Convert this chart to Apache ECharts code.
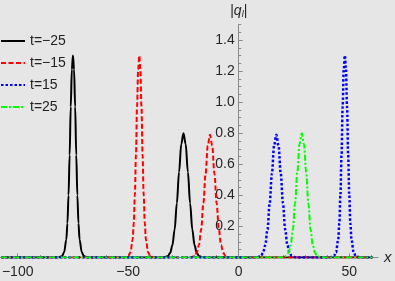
<!DOCTYPE html>
<html>
<head>
<meta charset="utf-8">
<script src="https://cdn.jsdelivr.net/npm/echarts@6/dist/echarts.min.js"></script>
<style>
html,body{margin:0;padding:0;background:#e6e6e6;}
#c{width:395px;height:281px;}
</style>
</head>
<body>
<div id="c"></div>
<script>
var seriesNames = ['t=\u221225', 't=\u221215', 't=15', 't=25'];
var xTickLabels = [-100, -50, 0, 50];
var xMinorTicks = [-100, -90, -80, -70, -60, -50, -40, -30, -20, -10, 0, 10, 20, 30, 40, 50, 60];
var yTickLabels = [0.2, 0.4, 0.6, 0.8, 1.0, 1.2, 1.4];
var yMinorTicks = [0.05, 0.1, 0.15, 0.25, 0.3, 0.35, 0.45, 0.5, 0.55, 0.65, 0.7, 0.75, 0.85, 0.9, 0.95, 1.05, 1.1, 1.15, 1.25, 1.3, 1.35, 1.45, 1.5];

var tm25 = [[-107.5,0],[-82,0],[-80,0.008],[-79,0.033],[-78,0.115],[-77.5,0.22],[-77,0.40],[-76.5,0.66],[-76,0.97],[-75.5,1.21],[-75,1.30],[-74.5,1.21],[-74,0.97],[-73.5,0.66],[-73,0.40],[-72.5,0.22],[-72,0.115],[-71,0.033],[-70,0.008],[-68,0],
  [-34,0],[-32,0.009],[-31,0.03],[-30,0.08],[-29,0.18],[-28,0.35],[-27,0.55],[-26,0.73],[-25,0.80],[-24,0.73],[-23,0.55],[-22,0.35],[-21,0.18],[-20,0.08],[-19,0.03],[-18,0.009],[-16,0],[60.5,0]];

var tm15 = [[-107.5,0],[-52,0],[-50,0.008],[-49,0.033],[-48,0.115],[-47.5,0.22],[-47,0.40],[-46.5,0.66],[-46,0.97],[-45.5,1.21],[-45,1.30],[-44.5,1.21],[-44,0.97],[-43.5,0.66],[-43,0.40],[-42.5,0.22],[-42,0.115],[-41,0.033],[-40,0.008],[-38,0],
  [-22,0],[-20,0.009],[-19,0.03],[-18,0.08],[-17,0.18],[-16,0.35],[-15,0.54],[-14,0.72],[-13,0.79],[-12,0.72],[-11,0.54],[-10,0.35],[-9,0.18],[-8,0.08],[-7,0.03],[-6,0.009],[-4,0],[60.5,0]];

var tp15 = [[-107.5,0],[8,0],[10,0.009],[11,0.03],[12,0.08],[13,0.18],[14,0.35],[15,0.54],[16,0.72],[17,0.79],[18,0.72],[19,0.54],[20,0.35],[21,0.18],[22,0.08],[23,0.03],[24,0.009],[26,0],
  [41,0],[43,0.008],[44,0.033],[45,0.115],[45.5,0.22],[46,0.40],[46.5,0.66],[47,0.97],[47.5,1.21],[48,1.30],[48.5,1.21],[49,0.97],[49.5,0.66],[50,0.40],[50.5,0.22],[51,0.115],[52,0.033],[53,0.008],[55,0],[60.5,0]];

var tp25 = [[-107.5,0],[19.5,0],[21.5,0.009],[22.5,0.03],[23.5,0.08],[24.5,0.18],[25.5,0.35],[26.5,0.55],[27.5,0.73],[28.5,0.80],[29.5,0.73],[30.5,0.55],[31.5,0.35],[32.5,0.18],[33.5,0.08],[34.5,0.03],[35.5,0.009],[37.5,0],[60.5,0]];

var xMin = -108, xMax = 63, gridW = 378;
var yOffset = -(0 - xMin) / (xMax - xMin) * gridW;
var chart = echarts.init(document.getElementById('c'), null, {renderer: 'canvas'});
var axisColor = '#8a8a8a';
var textColor = '#262626';
var ff = 'Liberation Sans, Arial, sans-serif';
function mk(name, data, color, type, width) {
  return {
    name: name, type: 'line', data: data, showSymbol: false, symbol: 'none',
    smooth: 0.35, smoothMonotone: 'x', xAxisIndex: 0, yAxisIndex: 0,
    lineStyle: {color: color, type: type, width: width},
    itemStyle: {color: color},
    animation: false
  };
}
var option = {
  backgroundColor: '#e6e6e6',
  animation: false,
  grid: {left: 0, width: gridW, top: 24.5, bottom: 23.5, containLabel: false, outerBoundsMode: 'none'},
  legend: {
    orient: 'vertical', left: 0, top: 34, padding: 0,
    itemWidth: 24, itemHeight: 14, itemGap: 8,
    itemStyle: {opacity: 0},
    textStyle: {fontSize: 14, color: '#222', fontFamily: ff},
    data: seriesNames
  },
  xAxis: [{
    type: 'value', min: xMin, max: xMax,
    name: 'x', nameLocation: 'end', nameGap: 6,
    nameTextStyle: {fontStyle: 'italic', fontSize: 15, color: textColor, fontFamily: ff, verticalAlign: 'middle'},
    axisLine: {onZero: false, lineStyle: {color: axisColor, width: 1}},
    axisTick: {show: true, inside: true, length: 4, customValues: xTickLabels, lineStyle: {color: axisColor}},
    axisLabel: {customValues: xTickLabels, fontSize: 14, color: textColor, margin: 8, fontFamily: ff,
      formatter: function (v) { return String(v).replace('-', '\u2212'); }},
    splitLine: {show: false}
  }, {
    type: 'value', min: xMin, max: xMax, position: 'bottom', offset: 0,
    axisLine: {show: false, onZero: false},
    axisTick: {show: true, inside: true, length: 2.5, customValues: xMinorTicks, lineStyle: {color: axisColor}},
    axisLabel: {show: false},
    splitLine: {show: false}
  }],
  yAxis: [{
    type: 'value', min: 0, max: 1.5, interval: 0.1, position: 'left',
    offset: yOffset,
    name: '{a||}{q|q}{s|l}{a||}', nameLocation: 'end', nameGap: 6,
    nameTextStyle: {
      rich: {
        a: {fontSize: 14, color: textColor, fontFamily: ff},
        q: {fontSize: 14, color: textColor, fontStyle: 'italic', fontFamily: ff},
        s: {fontSize: 9, color: textColor, fontStyle: 'italic', fontFamily: ff, padding: [6, 0, 0, 0]}
      }
    },
    axisLine: {onZero: false, lineStyle: {color: axisColor, width: 1}},
    axisTick: {show: true, inside: true, length: 4, customValues: yTickLabels, lineStyle: {color: axisColor}},
    minorTick: {show: false},
    axisLabel: {show: true, customValues: yTickLabels, fontSize: 14, color: textColor, margin: 4, fontFamily: ff,
      formatter: function (v) { return Number(v).toFixed(1); }},
    splitLine: {show: false}
  }, {
    type: 'value', min: 0, max: 1.5, interval: 0.1, position: 'left',
    offset: yOffset,
    axisLine: {show: false, onZero: false},
    axisTick: {show: true, inside: true, length: 2.5, customValues: yMinorTicks, lineStyle: {color: axisColor}},
    axisLabel: {show: false},
    splitLine: {show: false}
  }],
  series: [
    mk(seriesNames[0], tm25, '#000000', 'solid', 2),
    mk(seriesNames[1], tm15, '#ff0000', [5, 2.5], 2),
    mk(seriesNames[2], tp15, '#0000ff', [2.5, 2], 2.5),
    mk(seriesNames[3], tp25, '#00ff00', [6, 2, 2, 2], 2)
  ]
};
chart.setOption(option);
</script>
</body>
</html>
